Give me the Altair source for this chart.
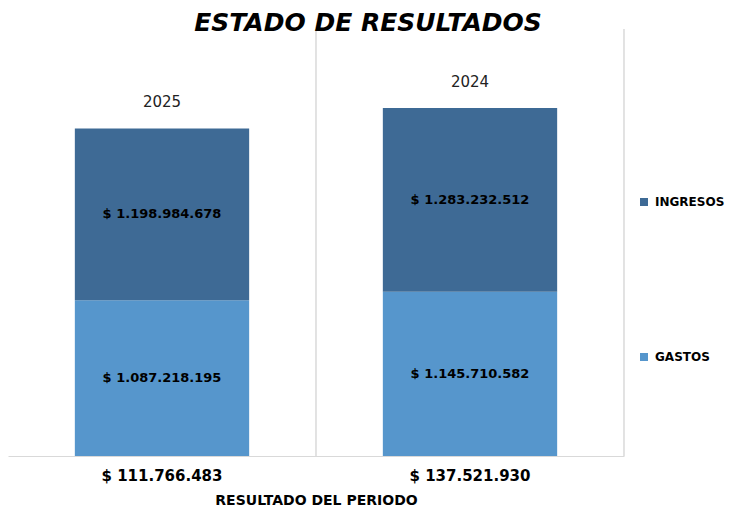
import altair as alt
import pandas as pd

anios = ["2025", "2024"]
gastos = [1087218195, 1145710582]
ingresos = [1198984678, 1283232512]
series = ["INGRESOS", "GASTOS"]
colores = ["#3E6A95", "#5696CC"]


def fmt(v):
    return "$ " + f"{v:,}".replace(",", ".")


resultados = [fmt(i - g) for i, g in zip(ingresos, gastos)]

rows = []
for a, r, g, i in zip(anios, resultados, gastos, ingresos):
    rows.append({"anio": a, "resultado": r, "serie": "GASTOS", "valor": g, "orden": 0, "etiqueta": fmt(g)})
    rows.append({"anio": a, "resultado": r, "serie": "INGRESOS", "valor": i, "orden": 1, "etiqueta": fmt(i)})
df = pd.DataFrame(rows)

yscale = alt.Scale(domain=[0, 2.98e9])
xenc = alt.X(
    "resultado:N",
    sort=resultados,
    scale=alt.Scale(paddingInner=0, paddingOuter=0),
    axis=alt.Axis(
        title="RESULTADO DEL PERIODO",
        labelAngle=0,
        labelAlign="center",
        bandPosition=0.5,
        ticks=False,
        grid=False,
        domainColor="#d9d9d9",
        labelFont="DejaVu Sans",
        labelFontWeight="bold",
        labelFontSize=15,
        labelColor="black",
        labelPadding=19,
        titleFont="DejaVu Sans",
        titleFontWeight="bold",
        titleFontSize=14,
        titleColor="black",
        titlePadding=10,
    ),
)

base = alt.Chart(df)

grid = base.mark_rule(color="#d9d9d9", strokeWidth=1).encode(
    x=alt.X("resultado:N", sort=resultados, bandPosition=1)
)

bars = base.mark_bar(width={"band": 0.566}).encode(
    x=xenc,
    y=alt.Y("valor:Q", stack="zero", scale=yscale, axis=None),
    color=alt.Color(
        "serie:N",
        scale=alt.Scale(domain=series, range=colores),
        legend=alt.Legend(
            title=None,
            orient="none",
            legendX=630,
            legendY=167,
            rowPadding=143,
            symbolType="square",
            symbolSize=64,
            symbolStrokeWidth=0,
            labelFont="DejaVu Sans",
            labelFontWeight="bold",
            labelFontSize=12,
            labelOffset=5,
            labelColor="black",
            padding=0,
        ),
    ),
    order=alt.Order("orden:Q"),
)

seg_labels = base.transform_stack(
    stack="valor", groupby=["resultado"], sort=[alt.SortField("orden")], as_=["v0", "v1"]
).transform_calculate(mid="(datum.v0 + datum.v1) / 2").mark_text(
    font="DejaVu Sans", fontWeight="bold", fontSize=13, color="black"
).encode(
    x=alt.X("resultado:N", sort=resultados),
    y=alt.Y("mid:Q", scale=yscale),
    text="etiqueta:N",
)

year_labels = base.transform_aggregate(
    total="sum(valor)", groupby=["resultado", "anio"]
).mark_text(
    font="DejaVu Sans", fontSize=15, color="#222222", baseline="alphabetic", dy=-21
).encode(
    x=alt.X("resultado:N", sort=resultados),
    y=alt.Y("total:Q", scale=yscale),
    text="anio:N",
)

chart = (
    alt.layer(grid, bars, seg_labels, year_labels)
    .properties(
        width=616,
        height=427,
        padding={"left": 0, "top": 2, "right": 0, "bottom": 0},
        title=alt.Title(
            "ESTADO DE RESULTADOS",
            font="DejaVu Sans",
            fontSize=25,
            fontWeight="bold",
            fontStyle="italic",
            color="black",
            anchor="middle",
            offset=-7,
            dx=52,
        ),
    )
    .configure_view(stroke=None)
)

chart.save("out.html", embed_options={"renderer": "svg", "actions": False})
